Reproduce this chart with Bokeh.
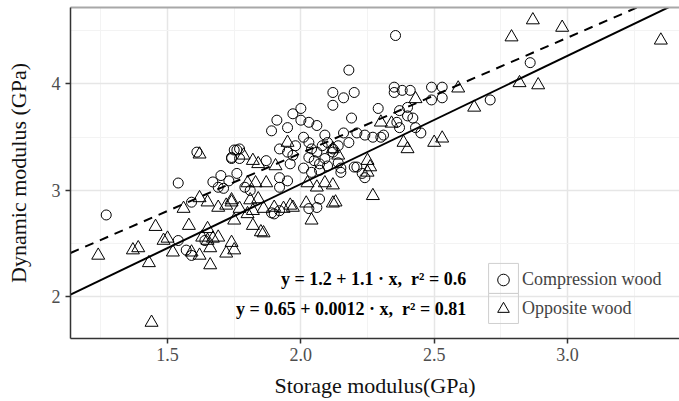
import numpy as np
from bokeh.plotting import figure
from bokeh.models import FixedTicker, LinearAxis, Legend, LegendItem, Range1d, NumeralTickFormatter
from bokeh.core.properties import value
from bokeh.embed import file_html
from bokeh.resources import INLINE

# Compression wood (storage modulus, dynamic modulus), GPa
comp_x = [1.27, 1.61, 1.54, 1.54, 1.59, 1.57, 1.59, 1.64, 1.67, 1.70, 1.73, 1.76, 1.71, 1.74, 1.76,
          1.90, 2.03, 1.89, 1.92, 2.07, 2.15, 2.12, 2.16, 2.12, 1.97, 2.00, 2.00, 2.03, 1.91, 1.89,
          1.95, 2.06, 2.01, 2.03, 1.92, 1.95, 1.97, 1.75, 1.77, 1.74, 1.77, 1.87, 1.96, 2.04, 2.06,
          2.08, 2.10, 2.03, 2.05, 2.07, 2.09, 2.12, 2.01, 2.04, 2.07, 2.10, 2.14, 2.15, 2.16, 2.18,
          1.69, 1.92, 1.95, 1.92, 1.79, 1.81, 2.355, 2.18, 2.20, 2.35, 2.35, 2.38, 2.41, 2.49, 2.53,
          2.49, 2.53, 2.29, 2.19, 2.37, 2.40, 2.42, 2.40, 2.36, 2.37, 2.43, 2.45, 2.24, 2.27, 2.30,
          2.21, 2.14, 2.12, 2.21, 2.23, 2.24, 2.06, 2.20, 2.71, 2.86, 2.31, 2.09, 1.98]
comp_y = [2.77, 3.36, 3.07, 2.53, 2.89, 2.44, 2.39, 2.53, 3.08, 3.14, 3.09, 3.16, 3.02, 3.31, 3.38,
          2.78, 2.83, 2.79, 2.81, 2.92, 3.17, 3.92, 3.87, 3.80, 3.72, 3.77, 3.66, 3.64, 3.66, 3.56,
          3.59, 3.61, 3.50, 3.45, 3.39, 3.36, 3.33, 3.38, 3.39, 3.30, 3.30, 3.28, 3.25, 3.39, 3.36,
          3.42, 3.45, 3.31, 3.28, 3.25, 3.30, 3.36, 3.21, 3.17, 3.19, 3.23, 3.26, 3.21, 3.54, 3.45,
          3.03, 3.12, 3.09, 3.03, 3.03, 3.00, 4.455, 4.13, 3.92, 3.97, 3.92, 3.94, 3.94, 3.97, 3.97,
          3.85, 3.87, 3.77, 3.68, 3.75, 3.70, 3.68, 3.78, 3.64, 3.59, 3.59, 3.54, 3.52, 3.50, 3.50,
          3.54, 3.42, 3.39, 3.22, 3.16, 3.12, 2.84, 3.22, 3.85, 4.20, 3.52, 3.52, 3.42]

# Opposite wood
opp_x = [1.62, 1.455, 1.24, 1.37, 1.39, 1.43, 1.44, 1.485, 1.50, 1.52, 1.56, 1.58, 1.59, 1.62, 1.66,
         1.65, 1.65, 1.69, 1.63, 1.66, 1.72, 1.74, 1.69, 1.72, 1.74, 1.75, 1.82, 1.85, 1.86, 1.80,
         1.77, 1.82, 1.86, 1.90, 1.935, 1.97, 2.04, 2.12, 1.81, 1.84, 2.02, 2.06, 2.09, 2.12, 2.13,
         1.80, 1.83, 1.87, 1.62, 1.67, 1.75, 1.65, 1.95, 1.785, 1.82, 1.905, 2.12, 2.025, 1.74, 1.96,
         2.59, 2.43, 2.65, 2.30, 2.385, 2.40, 2.50, 2.53, 2.25, 2.26, 2.25, 2.27, 2.34, 2.79, 2.87,
         2.98, 3.35, 2.82, 2.89, 1.84, 2.14]
opp_y = [3.34, 2.66, 2.39, 2.44, 2.46, 2.32, 1.76, 2.53, 2.55, 2.42, 2.83, 2.67, 2.42, 2.39, 2.30,
         2.89, 2.64, 2.56, 2.56, 2.46, 2.41, 2.51, 2.84, 2.86, 2.89, 2.72, 2.67, 2.61, 2.60, 2.78,
         2.83, 2.81, 2.83, 2.84, 2.83, 2.84, 2.72, 2.88, 2.91, 2.92, 2.88, 3.03, 3.07, 3.05, 2.89,
         3.07, 3.07, 3.07, 2.93, 2.55, 2.44, 2.53, 3.45, 3.33, 3.28, 3.23, 3.39, 3.07, 2.91, 2.86,
         3.96, 3.86, 3.78, 3.64, 3.45, 3.39, 3.45, 3.49, 3.28, 3.22, 3.17, 2.95, 3.63, 4.44, 4.60,
         4.53, 4.41, 4.01, 3.99, 3.25, 3.33]

# Fitted lines (intercept, slope) as drawn
fit_names = ["Compression wood", "Opposite wood"]
fit_intercept = [1.18, 0.655]
fit_slope = [1.085, 1.203]
fit_dash = ["9 7", "solid"]

eq_texts = ["y = 1.2 + 1.1 \u00b7 x,\u00a0\u00a0r\u00b2 = 0.6",
            "y = 0.65 + 0.0012 \u00b7 x,\u00a0\u00a0r\u00b2 = 0.81"]

x_ticks = [1.5, 2.0, 2.5, 3.0]
x_minor = [1.25, 1.75, 2.25, 2.75, 3.25]
y_ticks = [2, 3, 4]
y_minor = [2.5, 3.5, 4.5]

FONT = "Liberation Serif"
XMIN, XMAX = 1.136, 3.42
YMIN, YMAX = 1.61, 4.718

p = figure(width=679, height=401, output_backend="svg", toolbar_location=None,
           x_range=Range1d(XMIN, XMAX), y_range=Range1d(YMIN, YMAX),
           min_border_left=70, min_border_right=0, min_border_top=7, min_border_bottom=63)
p.outline_line_color = None
p.background_fill_color = "white"
p.border_fill_color = "white"

for ax, tk, mn in ((p.xaxis[0], x_ticks, x_minor), (p.yaxis[0], y_ticks, y_minor)):
    ax.ticker = FixedTicker(ticks=tk, minor_ticks=mn)
    ax.axis_line_color = "#333333"
    ax.axis_line_width = 1.5
    ax.major_tick_line_color = "#333333"
    ax.major_tick_line_width = 1.5
    ax.major_tick_out = 5
    ax.major_tick_in = 0
    ax.minor_tick_line_color = None
    ax.major_label_text_font = FONT
    ax.major_label_text_font_size = "18px"
    ax.major_label_text_color = "#4d4d4d"
    ax.axis_label_text_font = FONT
    ax.axis_label_text_font_size = "22px"
    ax.axis_label_text_font_style = "normal"
    ax.axis_label_text_color = "#111111"

p.xaxis.formatter = NumeralTickFormatter(format="0.0")
p.xaxis.axis_label = "Storage modulus(GPa)"
p.yaxis.axis_label = "Dynamic modulus (GPa)"
p.xaxis.major_label_standoff = 4
p.xaxis.axis_label_standoff = 9
p.yaxis.major_label_standoff = 5
p.yaxis.axis_label_standoff = 18
p.yaxis.major_label_orientation = "horizontal"

top = LinearAxis(ticker=FixedTicker(ticks=[]), axis_line_color="#a8a8a8", axis_line_width=2,
                 major_tick_line_color=None, minor_tick_line_color=None,
                 major_label_text_font_size="0px")
p.add_layout(top, "above")

for g in (p.xgrid[0], p.ygrid[0]):
    g.grid_line_color = "#e6e6e6"
    g.grid_line_width = 1.5
    g.minor_grid_line_color = "#f3f3f3"
    g.minor_grid_line_width = 1

# legend key boxes (decoration)
p.quad(left=[2.704, 2.704], right=[2.816, 2.816], top=[2.315, 2.033], bottom=[2.033, 1.751],
       fill_color=None, line_color="#cfcfcf", line_width=1)

rc = p.scatter(comp_x, comp_y, marker="circle", size=10, fill_color=None,
               line_color="black", line_width=1)
rt = p.scatter(opp_x, opp_y, marker="triangle", size=13, fill_color=None,
               line_color="black", line_width=1)

xs = np.array([XMIN, XMAX])
for a, b, d in zip(fit_intercept, fit_slope, fit_dash):
    p.line(xs, a + b * xs, line_color="black", line_width=2, line_dash=d)

p.text(x=[2.62, 2.62], y=[2.17, 1.89], text=eq_texts, text_align="right",
       text_baseline="middle", text_font=value(FONT), text_font_size="18px",
       text_font_style="bold", text_color="black")

legend = Legend(items=[LegendItem(label=fit_names[0], renderers=[rc]),
                       LegendItem(label=fit_names[1], renderers=[rt])],
                location=(418, 15), padding=0, margin=0, spacing=0,
                glyph_width=30, glyph_height=29, label_standoff=4,
                label_text_font=FONT, label_text_font_size="18px",
                border_line_color=None, background_fill_alpha=0)
p.add_layout(legend, "center")

open("out.html", "w").write(file_html(p, INLINE))
